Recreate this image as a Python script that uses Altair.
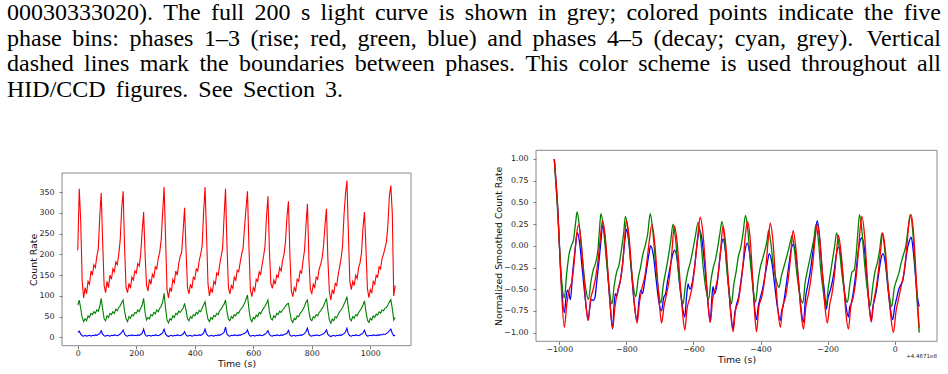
import altair as alt
import pandas as pd

# ---------------- caption text (top of the page) ----------------
CAPTION = [
    "00030333020). The full 200 s light curve is shown in grey; colored points indicate the five",
    "phase bins: phases 1\u20133 (rise; red, green, blue) and phases 4\u20135 (decay; cyan, grey). Vertical",
    "dashed lines mark the boundaries between phases. This color scheme is used throughout all",
    "HID/CCD figures. See Section 3.",
]

# ---------------- left panel: raw count rates ----------------
LEFT_TIME = list(range(0, 1090, 5))
LEFT_RED = [
    210, 358, 280, 135, 95, 120, 105, 135, 128, 160,
    150, 175, 168, 195, 212, 290, 348, 230, 125, 108,
    135, 120, 150, 140, 165, 158, 182, 175, 200, 235,
    310, 352, 215, 120, 108, 130, 118, 145, 138, 160,
    155, 178, 172, 200, 255, 302, 200, 125, 112, 140,
    128, 152, 145, 170, 165, 190, 205, 235, 300, 362,
    240, 115, 95, 120, 110, 140, 132, 160, 150, 178,
    195, 205, 255, 312, 210, 120, 105, 128, 118, 145,
    140, 165, 160, 185, 200, 220, 300, 362, 250, 130,
    100, 118, 108, 135, 128, 155, 150, 175, 195, 215,
    290, 358, 220, 120, 105, 125, 118, 145, 138, 162,
    158, 180, 200, 215, 265, 310, 352, 220, 115, 98,
    120, 112, 140, 135, 158, 152, 175, 195, 220, 290,
    340, 210, 130, 118, 138, 128, 150, 145, 168, 160,
    185, 200, 230, 290, 328, 200, 112, 98, 120, 112,
    140, 135, 160, 155, 185, 210, 270, 322, 190, 115,
    106, 128, 120, 145, 140, 165, 175, 190, 220, 270,
    310, 185, 110, 90, 115, 105, 130, 125, 150, 170,
    190, 220, 295, 345, 378, 250, 135, 115, 135, 125,
    150, 142, 168, 180, 205, 265, 302, 215, 118, 96,
    115, 108, 135, 128, 150, 145, 170, 165, 190, 200,
    215, 230, 270, 340, 366, 300, 100, 125,
]
LEFT_GREEN = [
    78, 90, 70, 48, 38, 45, 40, 52, 48, 58,
    55, 62, 58, 66, 63, 75, 94, 68, 45, 40,
    52, 48, 58, 55, 62, 58, 68, 64, 72, 76,
    84, 90, 62, 45, 38, 50, 46, 55, 52, 60,
    58, 66, 62, 70, 78, 94, 60, 42, 48, 45,
    55, 52, 60, 57, 66, 62, 70, 75, 85, 106,
    70, 42, 35, 45, 42, 52, 48, 58, 55, 63,
    60, 66, 70, 82, 65, 45, 40, 50, 46, 55,
    52, 60, 57, 65, 62, 70, 78, 86, 62, 44,
    38, 48, 44, 53, 50, 58, 55, 64, 68, 75,
    80, 90, 62, 44, 40, 50, 46, 55, 52, 60,
    58, 66, 70, 75, 82, 92, 102, 68, 45, 38,
    48, 45, 54, 50, 60, 57, 65, 70, 75, 82,
    90, 62, 45, 42, 52, 48, 58, 55, 63, 60,
    66, 70, 75, 80, 82, 60, 42, 36, 46, 43,
    52, 50, 58, 62, 68, 75, 85, 90, 62, 44,
    40, 50, 47, 55, 52, 60, 64, 70, 75, 85,
    94, 65, 42, 34, 44, 40, 50, 47, 56, 62,
    66, 72, 80, 88, 98, 70, 45, 40, 50, 46,
    55, 52, 60, 65, 70, 78, 88, 62, 42, 36,
    46, 42, 52, 48, 56, 54, 62, 58, 66, 64,
    70, 72, 78, 85, 91, 70, 42, 48,
]
LEFT_BLUE = [
    12, 15, 8, 4, 3, 5, 3, 4, 5, 3,
    5, 4, 6, 5, 7, 9, 16, 8, 4, 3,
    5, 4, 3, 5, 4, 6, 5, 4, 6, 8,
    12, 18, 8, 4, 3, 5, 4, 6, 4, 5,
    4, 6, 5, 7, 10, 20, 7, 3, 4, 5,
    3, 5, 4, 6, 5, 4, 6, 8, 11, 20,
    8, 4, 2, 4, 5, 3, 5, 4, 6, 5,
    4, 6, 8, 14, 6, 3, 4, 5, 3, 4,
    6, 4, 5, 6, 5, 7, 10, 20, 8, 4,
    3, 5, 4, 3, 5, 4, 6, 5, 7, 9,
    12, 25, 8, 4, 3, 5, 4, 6, 5, 4,
    6, 5, 7, 8, 10, 12, 18, 7, 3, 4,
    5, 3, 5, 4, 6, 5, 4, 6, 8, 11,
    16, 7, 4, 3, 5, 4, 6, 5, 4, 6,
    5, 7, 8, 10, 17, 6, 3, 4, 5, 3,
    5, 4, 6, 5, 7, 9, 14, 22, 8, 4,
    3, 5, 4, 6, 5, 4, 6, 7, 9, 12,
    18, 7, 4, 2, 4, 5, 3, 5, 4, 6,
    5, 7, 9, 13, 22, 8, 4, 3, 5, 4,
    6, 5, 4, 6, 8, 11, 17, 7, 3, 4,
    5, 4, 6, 5, 4, 6, 5, 7, 6, 8,
    7, 9, 12, 16, 20, 10, 4, 5,
]

# ---------------- right panel: normalized smoothed rates ----------------
RIGHT_RED_X = [
    -1015, -1005, -995, -985, -978, -970, -963, -956, -950, -943, -935, -927, -920, -914,
    -907, -899, -891, -884, -877, -871, -863, -855, -848, -841,
    -834, -826, -818, -811, -805, -800, -792, -784, -776, -768,
    -761, -753, -745, -738, -731, -724, -716, -708, -701, -695,
    -688, -680, -672, -665, -657, -649, -641, -633, -626,
    -619, -611, -603, -595, -587, -580, -572, -564, -557, -550,
    -543, -535, -527, -519, -512, -504, -496, -489, -482,
    -475, -467, -459, -452, -446, -439, -431, -424, -418, -412,
    -405, -397, -390, -383, -377, -371, -363, -355, -348, -341,
    -334, -326, -318, -311, -303, -295, -287, -279, -272,
    -265, -257, -250, -243, -237, -231, -223, -215, -208, -201,
    -194, -187, -180, -174, -168, -160, -152, -145, -138,
    -131, -123, -116, -109, -103, -98, -90, -83, -76, -70,
    -63, -56, -49, -42, -36, -28, -20, -12, -4,
    4, 12, 20, 28, 35, 42, 49, 56, 63, 68, 73,
]
RIGHT_RED_Y = [
    1.0, 0.45, -0.4, -0.94, -0.68, -0.5, -0.42, -0.2, 0.08, 0.24, 0.05, -0.35, -0.7, -0.86,
    -0.62, -0.5, -0.35, -0.15, 0.12, 0.29, 0.1, -0.3, -0.7, -0.95,
    -0.7, -0.52, -0.4, -0.2, 0.1, 0.29, 0.1, -0.3, -0.68, -0.89,
    -0.65, -0.48, -0.35, -0.15, 0.08, 0.245, 0.05, -0.35, -0.7, -0.89,
    -0.7, -0.55, -0.38, -0.1, 0.23, 0.05, -0.35, -0.75, -0.97,
    -0.72, -0.6, -0.45, -0.2, 0.12, 0.33, 0.15, -0.25, -0.65, -0.88,
    -0.62, -0.5, -0.35, -0.05, 0.225, 0.02, -0.4, -0.78, -0.99,
    -0.75, -0.65, -0.45, -0.2, 0.1, 0.28, 0.08, -0.35, -0.75, -0.99,
    -0.7, -0.6, -0.45, -0.2, 0.08, 0.26, 0.05, -0.4, -0.75, -0.94,
    -0.7, -0.6, -0.4, -0.15, 0.175, -0.02, -0.4, -0.78, -0.96,
    -0.7, -0.55, -0.38, -0.15, 0.1, 0.25, 0.05, -0.35, -0.7, -0.89,
    -0.68, -0.55, -0.35, -0.1, 0.12, -0.08, -0.45, -0.8, -0.96,
    -0.7, -0.58, -0.4, -0.1, 0.2, 0.34, 0.12, -0.3, -0.7, -0.88,
    -0.65, -0.5, -0.3, -0.05, 0.15, -0.05, -0.45, -0.8, -1.0,
    -0.75, -0.6, -0.45, -0.3, -0.05, 0.25, 0.36, 0.15, -0.3, -0.65, -0.95,
]
RIGHT_GREEN_X = [
    -1015, -1005, -995, -985, -978, -971, -964, -957, -951, -947, -940, -931, -921, -913,
    -906, -899, -892, -885, -880, -876, -869, -860, -851, -843,
    -836, -829, -822, -815, -808, -803, -796, -788, -780, -772,
    -765, -758, -751, -744, -736, -729, -722, -713, -705, -697,
    -690, -683, -676, -668, -661, -654, -646, -638, -631,
    -624, -617, -610, -602, -594, -586, -579, -571, -563, -555,
    -548, -541, -534, -527, -521, -515, -508, -500, -493, -487,
    -480, -473, -466, -459, -452, -445, -438, -430, -422, -415,
    -408, -401, -394, -387, -381, -376, -369, -361, -353, -345,
    -338, -331, -324, -317, -311, -306, -299, -291, -282, -274,
    -267, -260, -253, -246, -240, -235, -228, -220, -212, -205,
    -198, -191, -185, -179, -173, -166, -158, -149, -141,
    -134, -127, -121, -115, -110, -105, -98, -90, -81, -73,
    -66, -59, -52, -45, -38, -31, -23, -16, -9,
    -2, 5, 12, 19, 26, 33, 40, 46, 53, 60, 66, 73,
]
RIGHT_GREEN_Y = [
    1.0, 0.4, -0.3, -0.6, -0.32, -0.1, 0.0, 0.08, 0.28, 0.39, 0.22, -0.15, -0.5, -0.62,
    -0.42, -0.28, -0.2, -0.05, 0.2, 0.37, 0.22, -0.15, -0.5, -0.67,
    -0.45, -0.3, -0.22, -0.05, 0.15, 0.34, 0.2, -0.15, -0.45, -0.585,
    -0.38, -0.25, -0.1, 0.0, 0.15, 0.37, 0.2, -0.2, -0.5, -0.66,
    -0.45, -0.3, -0.15, 0.05, 0.25, 0.1, -0.25, -0.55, -0.67,
    -0.45, -0.3, -0.2, -0.05, 0.12, 0.27, 0.1, -0.25, -0.5, -0.62,
    -0.4, -0.25, -0.15, 0.0, 0.15, 0.28, 0.1, -0.3, -0.55, -0.67,
    -0.45, -0.3, -0.12, -0.02, 0.15, 0.35, 0.18, -0.2, -0.5, -0.65,
    -0.42, -0.25, -0.15, -0.05, 0.05, 0.18, 0.02, -0.25, -0.4, -0.48,
    -0.35, -0.25, -0.15, -0.05, 0.05, 0.12, -0.05, -0.35, -0.58, -0.66,
    -0.42, -0.28, -0.15, -0.02, 0.1, 0.245, 0.08, -0.3, -0.55, -0.7,
    -0.48, -0.3, -0.15, 0.0, 0.15, 0.0, -0.3, -0.55, -0.65,
    -0.45, -0.3, -0.28, -0.1, 0.15, 0.36, 0.18, -0.2, -0.52, -0.69,
    -0.48, -0.3, -0.2, -0.05, 0.15, 0.0, -0.35, -0.58, -0.7,
    -0.5, -0.4, -0.32, -0.2, -0.1, 0.0, 0.2, 0.36, 0.2, -0.2, -0.6, -1.0,
]
RIGHT_BLUE_X = [
    -1015, -1005, -995, -985, -980, -976, -971, -967, -960, -953, -946, -940, -932, -923, -914,
    -909, -904, -899, -894, -888, -881, -876, -871, -864, -856, -848, -841,
    -837, -833, -829, -824, -818, -811, -805, -800, -793, -785, -777, -768,
    -763, -757, -752, -745, -739, -733, -728, -720, -711, -703, -695,
    -689, -683, -677, -670, -662, -656, -649, -641, -633, -626,
    -621, -616, -611, -605, -597, -590, -582, -575, -566, -558, -550,
    -546, -542, -537, -530, -523, -517, -512, -505, -496, -489, -482,
    -477, -472, -466, -460, -453, -446, -440, -432, -424, -418, -412,
    -407, -401, -394, -387, -380, -374, -366, -358, -350, -341,
    -337, -333, -327, -320, -313, -306, -302, -295, -287, -280, -272,
    -266, -259, -252, -245, -238, -231, -224, -216, -209, -204,
    -199, -195, -188, -181, -174, -168, -160, -152, -145, -138,
    -134, -130, -124, -117, -110, -104, -98, -90, -83, -76, -70,
    -65, -60, -54, -47, -41, -35, -28, -20, -12, -6,
    0, 6, 12, 18, 24, 30, 37, 43, 49, 55, 62, 68, 73,
]
RIGHT_BLUE_Y = [
    1.0, 0.45, -0.35, -0.77, -0.6, -0.51, -0.55, -0.62, -0.3, -0.05, 0.15, 0.05, -0.25, -0.6, -0.86,
    -0.7, -0.62, -0.63, -0.6, -0.4, -0.15, 0.05, 0.23, 0.1, -0.3, -0.7, -0.96,
    -0.7, -0.55, -0.58, -0.5, -0.4, -0.2, 0.05, 0.19, 0.05, -0.3, -0.65, -0.86,
    -0.65, -0.51, -0.55, -0.4, -0.25, -0.1, 0.0, -0.1, -0.4, -0.65, -0.75,
    -0.6, -0.55, -0.4, -0.25, -0.1, -0.05, -0.15, -0.45, -0.7, -0.82,
    -0.6, -0.44, -0.5, -0.45, -0.25, 0.0, 0.18, 0.08, -0.25, -0.6, -0.88,
    -0.65, -0.47, -0.55, -0.45, -0.2, 0.0, 0.08, -0.05, -0.45, -0.75, -0.96,
    -0.78, -0.68, -0.6, -0.45, -0.25, -0.05, 0.03, -0.1, -0.4, -0.7, -0.85,
    -0.7, -0.6, -0.5, -0.35, -0.2, -0.09, -0.2, -0.45, -0.7, -0.86,
    -0.75, -0.7, -0.55, -0.35, -0.15, 0.0, 0.015, -0.1, -0.4, -0.7, -0.88,
    -0.6, -0.45, -0.3, -0.1, 0.12, 0.29, 0.1, -0.3, -0.55, -0.73,
    -0.6, -0.55, -0.45, -0.3, -0.1, -0.015, -0.15, -0.45, -0.7, -0.82,
    -0.7, -0.67, -0.55, -0.35, -0.1, 0.05, 0.09, -0.05, -0.4, -0.7, -0.86,
    -0.7, -0.62, -0.5, -0.3, -0.15, -0.09, -0.2, -0.5, -0.75, -0.85,
    -0.7, -0.6, -0.5, -0.45, -0.4, -0.25, -0.05, 0.05, 0.1, -0.05, -0.35, -0.6, -0.7,
]

LEFT_X_TICKS = [0, 200, 400, 600, 800, 1000]
LEFT_Y_TICKS = [0, 50, 100, 150, 200, 250, 300, 350]
RIGHT_X_TICKS = [-1000, -800, -600, -400, -200, 0]
RIGHT_Y_TICKS = [-1.0, -0.75, -0.5, -0.25, 0.0, 0.25, 0.5, 0.75, 1.0]
LEFT_X_DOMAIN = [-54, 1139]
LEFT_Y_DOMAIN = [-20, 396]
RIGHT_X_DOMAIN = [-1069.5, 126]
RIGHT_Y_DOMAIN = [-1.1, 1.1]
OFFSET_LABEL = "+4.4671e8"

# ---------------- page geometry (pixels) ----------------
W, H = 948, 374
L_BOX = (62, 411, 173, 345.7)     # left, right, top, bottom of left panel
R_BOX = (536, 937, 150.3, 341.3)  # left, right, top, bottom of right panel
RED, GREEN, BLUE = "#ff0000", "#008000", "#0000ff"
FRAME_COLOR = "#8a8a8a"
SANS = "DejaVu Sans"
ONE = pd.DataFrame({"v": [0]})

# approximate Times-like advance widths (per 1000 em) for a justified caption
TW = {" ": 250, "(": 333, ")": 333, ",": 250, ".": 250, "/": 278, ":": 278, ";": 278,
      "\u2013": 500, "-": 333}
for ch in "0123456789":
    TW[ch] = 500
TW.update(dict(zip("ABCDEFGHIJKLMNOPQRSTUVWXYZ",
                   [722, 667, 667, 722, 611, 556, 722, 722, 333, 389, 722, 611, 889,
                    722, 722, 556, 722, 667, 556, 611, 722, 722, 944, 722, 722, 611])))
TW.update(dict(zip("abcdefghijklmnopqrstuvwxyz",
                   [444, 500, 444, 500, 444, 333, 500, 500, 278, 278, 500, 278, 778,
                    500, 500, 500, 500, 333, 389, 278, 500, 500, 722, 500, 500, 444])))

FS = 24
X_START = 7
LINE_END = [941, 941, 941, 343]
BASELINES = [20, 45.5, 71, 96.5]

text_layers = []
for i, line in enumerate(CAPTION):
    words = line.split(" ")
    widths = [sum(TW.get(c, 500) for c in w) / 1000 * FS for w in words]
    gap = (LINE_END[i] - X_START - sum(widths)) / (len(words) - 1)
    x = X_START
    for j, (w, wd) in enumerate(zip(words, widths)):
        last = j == len(words) - 1
        text_layers.append(
            alt.Chart(ONE).mark_text(
                align="right" if last else "left", baseline="alphabetic",
                font="Liberation Serif", fontSize=FS, color="#000000",
            ).encode(x=alt.value(LINE_END[i] if last else x), y=alt.value(BASELINES[i]),
                     text=alt.value(w))
        )
        x += wd + gap


def make_axis(title, values, fmt, orient, offset, label_pad, title_pad):
    return alt.Axis(title=title, values=values, format=fmt, orient=orient, offset=offset,
                    grid=False, domain=False,
                    tickSize=3, tickWidth=0.8, tickColor="#555555",
                    labelFont=SANS, labelFontSize=7.9, labelColor="#222222",
                    labelPadding=label_pad, labelFlush=False, labelOverlap=False,
                    titleFont=SANS, titleFontSize=9.4, titleFontWeight="normal",
                    titleColor="#111111", titlePadding=title_pad)


def panel(box, xdom, ydom, xticks, yticks, yfmt, ytitle, series, width, interp, xtitle_pad):
    left, right, top, bottom = box
    xs = alt.Scale(domain=xdom, range=[left, right], nice=False, zero=False)
    ys = alt.Scale(domain=ydom, range=[bottom, top], nice=False, zero=False)
    xa = make_axis("Time (s)", xticks, "d", "bottom", -(H - bottom), 1, xtitle_pad)
    ya = make_axis(ytitle, yticks, yfmt, "left", -left, 5, 0)
    frame = alt.Chart(ONE).mark_rect(filled=False, stroke=FRAME_COLOR, strokeWidth=1).encode(
        x=alt.XDatum(xdom[0], type="quantitative", scale=xs, axis=xa),
        x2=alt.X2Datum(xdom[1]),
        y=alt.YDatum(ydom[0], type="quantitative", scale=ys, axis=ya),
        y2=alt.Y2Datum(ydom[1]),
    )
    layers = [frame]
    for xv, yv, color in series:
        n = min(len(xv), len(yv))
        df = pd.DataFrame({"x": xv[:n], "y": yv[:n]})
        kw = dict(color=color, strokeWidth=width)
        if interp:
            kw["interpolate"] = interp
        layers.append(alt.Chart(df).mark_line(**kw).encode(
            x=alt.X("x:Q", scale=xs, axis=xa),
            y=alt.Y("y:Q", scale=ys, axis=ya),
        ))
    return alt.layer(*layers)


left_panel = panel(L_BOX, LEFT_X_DOMAIN, LEFT_Y_DOMAIN, LEFT_X_TICKS, LEFT_Y_TICKS, "d",
                   "Count Rate",
                   [(LEFT_TIME, LEFT_RED, RED), (LEFT_TIME, LEFT_GREEN, GREEN),
                    (LEFT_TIME, LEFT_BLUE, BLUE)], 1.1, None, 1.5)
right_panel = panel(R_BOX, RIGHT_X_DOMAIN, RIGHT_Y_DOMAIN, RIGHT_X_TICKS, RIGHT_Y_TICKS, ".2f",
                    "Normalized Smoothed Count Rate",
                    [(RIGHT_BLUE_X, RIGHT_BLUE_Y, BLUE), (RIGHT_GREEN_X, RIGHT_GREEN_Y, GREEN),
                     (RIGHT_RED_X, RIGHT_RED_Y, RED)], 1.3, "monotone", 2)

offset_text = alt.Chart(ONE).mark_text(
    align="right", baseline="middle", font=SANS, fontSize=5.5, color="#222222"
).encode(x=alt.value(R_BOX[1]), y=alt.value(356), text=alt.value(OFFSET_LABEL))

chart = alt.layer(left_panel, right_panel, offset_text, *text_layers).resolve_scale(
    x="independent", y="independent"
).resolve_axis(x="independent", y="independent").properties(
    width=W, height=H, padding=0, background="#ffffff",
    autosize=alt.AutoSizeParams(type="none"),
).configure_view(stroke="transparent")

chart.save("out.html", embed_options={"renderer": "svg", "actions": False})
